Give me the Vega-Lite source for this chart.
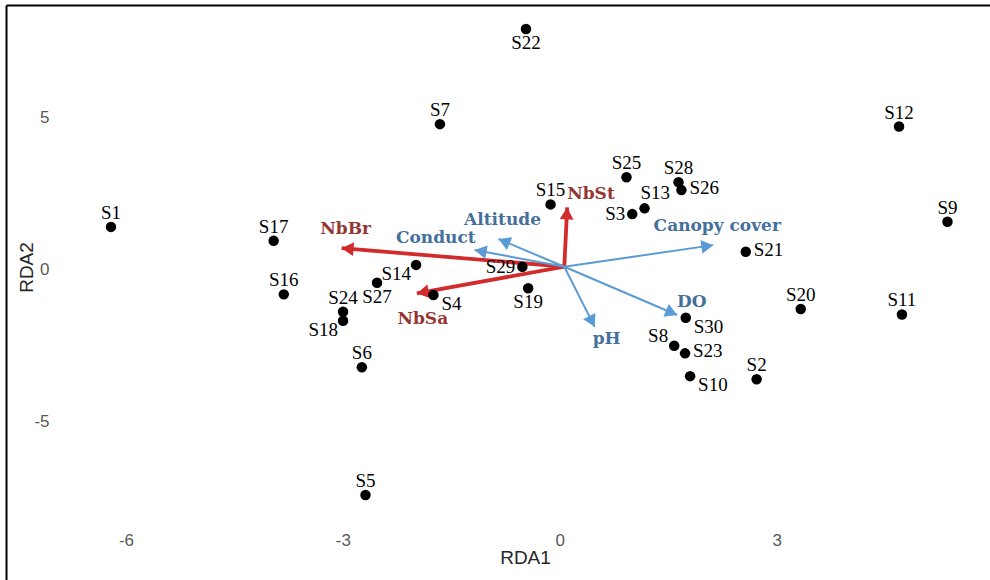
{
  "$schema": "https://vega.github.io/schema/vega-lite/v6.json",
  "width": 984,
  "height": 575,
  "autosize": {"type": "none"},
  "padding": {"left": 6, "top": 5, "right": 0, "bottom": 0},
  "background": "white",
  "config": {"view": {"stroke": null}},
  "resolve": {"scale": {"color": "independent"}},
  "datasets": {
    "sites": [
      {"site": "S1", "RDA1": -6.27, "RDA2": 1.31, "pos": "top"},
      {"site": "S2", "RDA1": 2.66, "RDA2": -3.70, "pos": "top"},
      {"site": "S3", "RDA1": 0.94, "RDA2": 1.73, "pos": "left"},
      {"site": "S4", "RDA1": -1.81, "RDA2": -0.93, "pos": "bottomright"},
      {"site": "S5", "RDA1": -2.75, "RDA2": -7.51, "pos": "top"},
      {"site": "S6", "RDA1": -2.80, "RDA2": -3.31, "pos": "top"},
      {"site": "S7", "RDA1": -1.72, "RDA2": 4.69, "pos": "top"},
      {"site": "S8", "RDA1": 1.52, "RDA2": -2.60, "pos": "topleft"},
      {"site": "S9", "RDA1": 5.30, "RDA2": 1.48, "pos": "top"},
      {"site": "S10", "RDA1": 1.74, "RDA2": -3.60, "pos": "bottomright"},
      {"site": "S11", "RDA1": 4.67, "RDA2": -1.57, "pos": "top"},
      {"site": "S12", "RDA1": 4.63, "RDA2": 4.61, "pos": "top"},
      {"site": "S13", "RDA1": 1.11, "RDA2": 1.92, "pos": "topright"},
      {"site": "S14", "RDA1": -2.05, "RDA2": 0.06, "pos": "bottomleft"},
      {"site": "S15", "RDA1": -0.19, "RDA2": 2.05, "pos": "top"},
      {"site": "S16", "RDA1": -3.88, "RDA2": -0.91, "pos": "top"},
      {"site": "S17", "RDA1": -4.02, "RDA2": 0.85, "pos": "top"},
      {"site": "S18", "RDA1": -3.06, "RDA2": -1.78, "pos": "bottomleft"},
      {"site": "S19", "RDA1": -0.50, "RDA2": -0.71, "pos": "bottom"},
      {"site": "S20", "RDA1": 3.27, "RDA2": -1.39, "pos": "top"},
      {"site": "S21", "RDA1": 2.51, "RDA2": 0.49, "pos": "right"},
      {"site": "S22", "RDA1": -0.53, "RDA2": 7.82, "pos": "bottom"},
      {"site": "S23", "RDA1": 1.67, "RDA2": -2.85, "pos": "right"},
      {"site": "S24", "RDA1": -3.06, "RDA2": -1.48, "pos": "top"},
      {"site": "S25", "RDA1": 0.86, "RDA2": 2.94, "pos": "top"},
      {"site": "S26", "RDA1": 1.62, "RDA2": 2.52, "pos": "right"},
      {"site": "S27", "RDA1": -2.59, "RDA2": -0.53, "pos": "bottom"},
      {"site": "S28", "RDA1": 1.58, "RDA2": 2.78, "pos": "top"},
      {"site": "S29", "RDA1": -0.58, "RDA2": 0.00, "pos": "left"},
      {"site": "S30", "RDA1": 1.68, "RDA2": -1.68, "pos": "bottomright"}
    ],
    "vectors": [
      {"var": "NbBr", "group": "species", "RDA1": -3.08, "RDA2": 0.61, "pos": "top"},
      {"var": "NbSa", "group": "species", "RDA1": -2.04, "RDA2": -0.88, "pos": "bottom"},
      {"var": "NbSt", "group": "species", "RDA1": 0.04, "RDA2": 1.95, "pos": "topright"},
      {"var": "Altitude", "group": "env", "RDA1": -0.91, "RDA2": 0.91, "pos": "top"},
      {"var": "Conduct", "group": "env", "RDA1": -1.24, "RDA2": 0.55, "pos": "topleft"},
      {"var": "Canopy cover", "group": "env", "RDA1": 2.06, "RDA2": 0.71, "pos": "top"},
      {"var": "DO", "group": "env", "RDA1": 1.56, "RDA2": -1.59, "pos": "topright"},
      {"var": "pH", "group": "env", "RDA1": 0.42, "RDA2": -1.98, "pos": "bottomright"}
    ]
  },
  "layer": [
    {
      "mark": {"type": "rule", "color": "#a6a6a6", "strokeWidth": 1.5},
      "encoding": {
        "y": {"datum": 0, "type": "quantitative"},
        "x": {"datum": -6.85, "type": "quantitative"},
        "x2": {"datum": 5.86}
      }
    },
    {
      "mark": {"type": "rule", "color": "#a6a6a6", "strokeWidth": 1.5},
      "encoding": {
        "x": {"datum": 0, "type": "quantitative"},
        "y": {"datum": 8.61, "type": "quantitative"},
        "y2": {"datum": -8.3}
      }
    },
    {
      "data": {"name": "vectors"},
      "mark": {"type": "rule"},
      "encoding": {
        "x": {"field": "RDA1", "type": "quantitative"},
        "y": {"field": "RDA2", "type": "quantitative"},
        "x2": {"datum": 0},
        "y2": {"datum": 0},
        "color": {"field": "group", "type": "nominal", "scale": {"domain": ["species", "env"], "range": ["#d22b2b", "#5b9bd5"]}, "legend": null},
        "strokeWidth": {"field": "group", "type": "nominal", "scale": {"domain": ["species", "env"], "range": [3.8, 2]}, "legend": null}
      }
    },
    {
      "data": {"name": "vectors"},
      "transform": [
        {"calculate": "atan2(72.3*datum.RDA1, 30.4*datum.RDA2)*180/PI", "as": "ang"},
        {"calculate": "sqrt(pow(72.3*datum.RDA1,2)+pow(30.4*datum.RDA2,2))", "as": "len"},
        {"calculate": "datum.RDA1*(1-6/datum.len)", "as": "hx"},
        {"calculate": "datum.RDA2*(1-6/datum.len)", "as": "hy"}
      ],
      "mark": {"type": "point", "shape": "triangle-up", "filled": true, "opacity": 1, "size": 190},
      "encoding": {
        "x": {"field": "hx", "type": "quantitative"},
        "y": {"field": "hy", "type": "quantitative"},
        "angle": {"field": "ang", "type": "quantitative", "scale": null},
        "color": {"field": "group", "type": "nominal", "scale": {"domain": ["species", "env"], "range": ["#d22b2b", "#5b9bd5"]}, "legend": null}
      }
    },
    {
      "data": {"name": "sites"},
      "mark": {"type": "circle", "color": "#000000", "opacity": 1, "size": 110},
      "encoding": {
        "x": {
          "field": "RDA1", "type": "quantitative",
          "scale": {"domain": [-7.722, 5.888], "nice": false, "zero": false},
          "axis": {
            "orient": "top", "values": [-6, -3, 0, 3], "domain": true, "domainColor": "#000000", "domainWidth": 2,
            "ticks": false, "tickSize": 0, "grid": false, "labelPadding": -535, "labelBaseline": "middle",
            "labelExpr": "'' + datum.value",
            "labelOffset": -4.5, "labelFont": "Liberation Sans", "labelFontSize": 17, "labelColor": "#595959",
            "labelFlush": false, "labelOverlap": false,
            "title": "RDA1", "titleX": 519, "titleY": 552, "titleAlign": "center", "titleBaseline": "middle",
            "titleFont": "Liberation Sans", "titleFontSize": 19, "titleFontWeight": "normal", "titleColor": "#262626"
          }
        },
        "y": {
          "field": "RDA2", "type": "quantitative",
          "scale": {"domain": [-10.306, 8.609], "nice": false, "zero": false},
          "axis": {
            "orient": "left", "values": [-5, 0, 5], "domain": true, "domainColor": "#000000", "domainWidth": 2,
            "ticks": false, "tickSize": 0, "grid": false, "labelPadding": -43, "labelAlign": "right", "labelBaseline": "middle",
            "labelExpr": "'' + datum.value",
            "labelOffset": 3, "labelFont": "Liberation Sans", "labelFontSize": 17, "labelColor": "#595959",
            "labelFlush": false, "labelOverlap": false,
            "title": "RDA2", "titleX": 20, "titleY": 262, "titleAngle": -90, "titleAlign": "center", "titleBaseline": "middle",
            "titleFont": "Liberation Sans", "titleFontSize": 19, "titleFontWeight": "normal", "titleColor": "#262626"
          }
        }
      }
    },
    {
      "data": {"name": "sites"}, "transform": [{"filter": {"field": "pos", "equal": "top"}}],
      "mark": {"type": "text", "font": "Liberation Serif", "fontSize": 19, "color": "#000000", "align": "center", "baseline": "middle", "dy": -14},
      "encoding": {"x": {"field": "RDA1", "type": "quantitative"}, "y": {"field": "RDA2", "type": "quantitative"}, "text": {"field": "site"}}
    },
    {
      "data": {"name": "sites"}, "transform": [{"filter": {"field": "pos", "equal": "bottom"}}],
      "mark": {"type": "text", "font": "Liberation Serif", "fontSize": 19, "color": "#000000", "align": "center", "baseline": "middle", "dy": 14},
      "encoding": {"x": {"field": "RDA1", "type": "quantitative"}, "y": {"field": "RDA2", "type": "quantitative"}, "text": {"field": "site"}}
    },
    {
      "data": {"name": "sites"}, "transform": [{"filter": {"field": "pos", "equal": "left"}}],
      "mark": {"type": "text", "font": "Liberation Serif", "fontSize": 19, "color": "#000000", "align": "right", "baseline": "middle", "dx": -7, "dy": 0},
      "encoding": {"x": {"field": "RDA1", "type": "quantitative"}, "y": {"field": "RDA2", "type": "quantitative"}, "text": {"field": "site"}}
    },
    {
      "data": {"name": "sites"}, "transform": [{"filter": {"field": "pos", "equal": "right"}}],
      "mark": {"type": "text", "font": "Liberation Serif", "fontSize": 19, "color": "#000000", "align": "left", "baseline": "middle", "dx": 8, "dy": -2},
      "encoding": {"x": {"field": "RDA1", "type": "quantitative"}, "y": {"field": "RDA2", "type": "quantitative"}, "text": {"field": "site"}}
    },
    {
      "data": {"name": "sites"}, "transform": [{"filter": {"field": "pos", "equal": "topleft"}}],
      "mark": {"type": "text", "font": "Liberation Serif", "fontSize": 19, "color": "#000000", "align": "right", "baseline": "middle", "dx": -6, "dy": -10},
      "encoding": {"x": {"field": "RDA1", "type": "quantitative"}, "y": {"field": "RDA2", "type": "quantitative"}, "text": {"field": "site"}}
    },
    {
      "data": {"name": "sites"}, "transform": [{"filter": {"field": "pos", "equal": "topright"}}],
      "mark": {"type": "text", "font": "Liberation Serif", "fontSize": 19, "color": "#000000", "align": "left", "baseline": "middle", "dx": -4, "dy": -15},
      "encoding": {"x": {"field": "RDA1", "type": "quantitative"}, "y": {"field": "RDA2", "type": "quantitative"}, "text": {"field": "site"}}
    },
    {
      "data": {"name": "sites"}, "transform": [{"filter": {"field": "pos", "equal": "bottomleft"}}],
      "mark": {"type": "text", "font": "Liberation Serif", "fontSize": 19, "color": "#000000", "align": "right", "baseline": "middle", "dx": -5, "dy": 9},
      "encoding": {"x": {"field": "RDA1", "type": "quantitative"}, "y": {"field": "RDA2", "type": "quantitative"}, "text": {"field": "site"}}
    },
    {
      "data": {"name": "sites"}, "transform": [{"filter": {"field": "pos", "equal": "bottomright"}}],
      "mark": {"type": "text", "font": "Liberation Serif", "fontSize": 19, "color": "#000000", "align": "left", "baseline": "middle", "dx": 8, "dy": 9},
      "encoding": {"x": {"field": "RDA1", "type": "quantitative"}, "y": {"field": "RDA2", "type": "quantitative"}, "text": {"field": "site"}}
    },
    {
      "data": {"name": "vectors"}, "transform": [{"filter": {"field": "pos", "equal": "top"}}],
      "mark": {"type": "text", "font": "DejaVu Serif", "fontSize": 17, "fontWeight": "bold", "align": "center", "baseline": "middle", "dx": 4, "dy": -19},
      "encoding": {"x": {"field": "RDA1", "type": "quantitative"}, "y": {"field": "RDA2", "type": "quantitative"}, "text": {"field": "var"},
        "color": {"field": "group", "type": "nominal", "scale": {"domain": ["species", "env"], "range": ["#943634", "#44709b"]}, "legend": null}}
    },
    {
      "data": {"name": "vectors"}, "transform": [{"filter": {"field": "pos", "equal": "bottom"}}],
      "mark": {"type": "text", "font": "DejaVu Serif", "fontSize": 17, "fontWeight": "bold", "align": "center", "baseline": "middle", "dx": 6, "dy": 26},
      "encoding": {"x": {"field": "RDA1", "type": "quantitative"}, "y": {"field": "RDA2", "type": "quantitative"}, "text": {"field": "var"},
        "color": {"field": "group", "type": "nominal", "scale": {"domain": ["species", "env"], "range": ["#943634", "#44709b"]}, "legend": null}}
    },
    {
      "data": {"name": "vectors"}, "transform": [{"filter": {"field": "pos", "equal": "topright"}}],
      "mark": {"type": "text", "font": "DejaVu Serif", "fontSize": 17, "fontWeight": "bold", "align": "left", "baseline": "middle", "dx": 0, "dy": -13},
      "encoding": {"x": {"field": "RDA1", "type": "quantitative"}, "y": {"field": "RDA2", "type": "quantitative"}, "text": {"field": "var"},
        "color": {"field": "group", "type": "nominal", "scale": {"domain": ["species", "env"], "range": ["#943634", "#44709b"]}, "legend": null}}
    },
    {
      "data": {"name": "vectors"}, "transform": [{"filter": {"field": "pos", "equal": "topleft"}}],
      "mark": {"type": "text", "font": "DejaVu Serif", "fontSize": 17, "fontWeight": "bold", "align": "right", "baseline": "middle", "dx": 1, "dy": -12},
      "encoding": {"x": {"field": "RDA1", "type": "quantitative"}, "y": {"field": "RDA2", "type": "quantitative"}, "text": {"field": "var"},
        "color": {"field": "group", "type": "nominal", "scale": {"domain": ["species", "env"], "range": ["#943634", "#44709b"]}, "legend": null}}
    },
    {
      "data": {"name": "vectors"}, "transform": [{"filter": {"field": "pos", "equal": "bottomright"}}],
      "mark": {"type": "text", "font": "DejaVu Serif", "fontSize": 17, "fontWeight": "bold", "align": "left", "baseline": "middle", "dx": -2, "dy": 12},
      "encoding": {"x": {"field": "RDA1", "type": "quantitative"}, "y": {"field": "RDA2", "type": "quantitative"}, "text": {"field": "var"},
        "color": {"field": "group", "type": "nominal", "scale": {"domain": ["species", "env"], "range": ["#943634", "#44709b"]}, "legend": null}}
    }
  ]
}
